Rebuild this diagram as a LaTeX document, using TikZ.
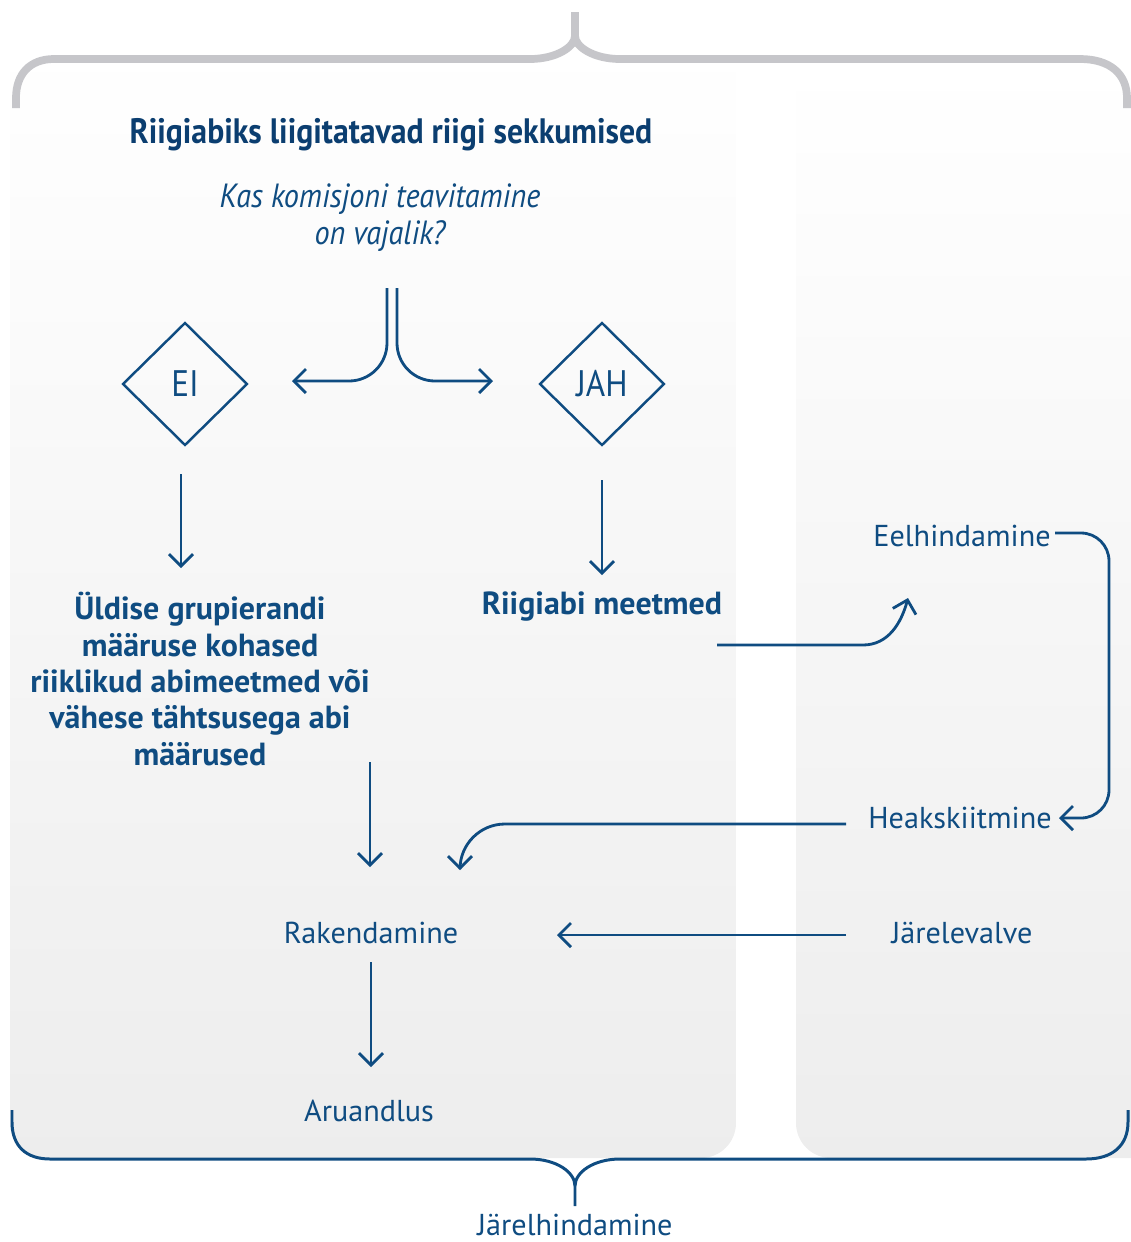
\documentclass[tikz,border=0pt]{standalone}
\usepackage{fontspec}
\setmainfont{PT Sans}
\newfontfamily\narrowfont[FakeStretch=0.9]{PT Sans}
\usetikzlibrary{shapes.geometric,arrows.meta,calc}
\definecolor{flowblue}{HTML}{0F4C81}
\definecolor{titleblue}{HTML}{0B3E70}
\definecolor{bracegrey}{HTML}{C6C6CA}

\begin{document}
\begin{tikzpicture}[
    x=0.02cm, y=-0.02cm,
    stage/.style={text=flowblue, font=\fontsize{17.2}{20}\selectfont},
    boldstage/.style={text=flowblue, font=\fontsize{18.2}{20.7}\selectfont\bfseries, align=center},
    titletext/.style={text=titleblue, font=\narrowfont\fontsize{20.1}{23}\selectfont\bfseries},
    question/.style={text=flowblue, font=\narrowfont\fontsize{19.1}{21}\selectfont\itshape, align=center},
    decision/.style={diamond, draw=flowblue, line width=1.4pt, minimum width=2.5cm, minimum height=2.46cm, inner sep=0pt, text=flowblue, font=\narrowfont\fontsize{21}{24}\selectfont},
    flow/.style={draw=flowblue, line width=1.6pt, -{Straight Barb[length=2.4mm, width=4.8mm]}},
    panel/.style={top color=white, bottom color=black!7, rounded corners=0.7cm},
    topbrace/.style={draw=bracegrey, line width=4.4pt},
    bottombrace/.style={draw=flowblue, line width=1.7pt}
]
    \useasboundingbox (0,0) rectangle (1131,1242);

    % background panels
    \path[panel] (10,40) rectangle (736,1158);
    \path[panel] (796,60) rectangle (1170,1158);

    % braces
    \draw[topbrace] (16,108) -- (16,98) .. controls (16,74) and (30,59) .. (54,59) -- (530,59)
        .. controls (556,59) and (575,47) .. (575,36) -- (575,12)
        (575,36) .. controls (575,47) and (594,59) .. (620,59) -- (1080,59)
        .. controls (1110,59) and (1127,74) .. (1127,98) -- (1127,108);
    \draw[bottombrace] (12,1110) -- (12,1122) .. controls (12,1146) and (26,1159) .. (50,1159) -- (530,1159)
        .. controls (556,1159) and (575,1172) .. (575,1186) -- (575,1206)
        (575,1186) .. controls (575,1172) and (594,1159) .. (620,1159) -- (1086,1159)
        .. controls (1112,1159) and (1128,1146) .. (1128,1122) -- (1128,1110);

    % question
    \node[titletext] (title) at (391,135) {Riigiabiks liigitatavad riigi sekkumised};
    \node[question] (q) at (380,218) {Kas komisjoni teavitamine\\on vajalik?};

    % answers
    \node[decision] (ei) at (185,384) {EI};
    \node[decision] (jah) at (602,384) {JAH};

    \node[boldstage] (uldise) at (200,679) {Üldise grupierandi\\määruse kohased\\riiklikud abimeetmed või\\vähese tähtsusega abi\\määrused};
    \node[boldstage] (riigiabi) at (602,607) {Riigiabi meetmed};

    % stages
    \node[stage] (eel) at (962,536) {Eelhindamine};
    \node[stage] (heak) at (960,818) {Heakskiitmine};
    \node[stage] (jarv) at (962,933) {Järelevalve};
    \node[stage] (rak) at (371,933) {Rakendamine};
    \node[stage] (aru) at (369,1111) {Aruandlus};
    \node[stage] (jarh) at (575,1225) {Järelhindamine};

    \coordinate (eeltip) at (908,598);
    \coordinate (raktip) at (460,870);

    % arrows
    \draw[flow, rounded corners=0.76cm] (q.center) ++(7,70) -- ++(0,93) -- ++(-95,0);
    \draw[flow, rounded corners=0.76cm] (q.center) ++(17,70) -- ++(0,93) -- ++(96,0);
    \draw[flow] (ei.center) ++(-4,90) -- ++(0,94);
    \draw[flow] (jah.center) ++(0,96) -- ++(0,95);
    \draw[flow] (riigiabi.center) ++(115,38) -- ++(146,0) to[out=0, in=-105] (eeltip);
    \draw[flow, rounded corners=0.56cm] (eel.center) ++(93,-3) -| ($(heak.center)+(149,0)$) -- ++(-50,0);
    \draw[flow, rounded corners=0.9cm] (heak.center) ++(-114,6) -| (raktip);
    \draw[flow] (jarv.center) ++(-116,2) -- ++(-289,0);
    \draw[flow] (rak.center) ++(-1,-171) -- ++(0,105);
    \draw[flow] (rak.center) ++(0,29) -- ++(0,105);
\end{tikzpicture}
\end{document}
